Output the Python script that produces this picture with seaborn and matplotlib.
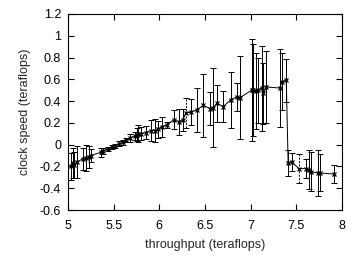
import numpy as np
import pandas as pd
import matplotlib
matplotlib.use("Agg")
import matplotlib.pyplot as plt
import seaborn as sns

# throughput (teraflops)
x_vals = [5.03, 5.05, 5.07, 5.10, 5.16, 5.20, 5.23, 5.25, 5.36, 5.38,
          5.44, 5.48, 5.52, 5.56, 5.60, 5.64, 5.68, 5.73, 5.76, 5.77,
          5.80, 5.85, 5.91, 5.95, 5.98, 6.03, 6.08, 6.16, 6.21, 6.26,
          6.29, 6.35, 6.41, 6.48, 6.56, 6.59, 6.63, 6.70, 6.78, 6.85,
          6.88, 7.01, 7.03, 7.06, 7.08, 7.12, 7.14, 7.17, 7.32, 7.34,
          7.39, 7.41, 7.45, 7.53, 7.61, 7.64, 7.66, 7.74, 7.76, 7.91]
# clock speed (teraflops)
y_vals = [-0.20, -0.17, -0.19, -0.16, -0.13, -0.12, -0.11, -0.10, -0.07, -0.06,
          -0.04, -0.02, -0.01, 0.01, 0.02, 0.04, 0.06, 0.08, 0.09, 0.10,
          0.10, 0.11, 0.13, 0.13, 0.14, 0.165, 0.18, 0.23, 0.21, 0.23,
          0.29, 0.30, 0.32, 0.36, 0.33, 0.34, 0.38, 0.35, 0.41, 0.44,
          0.43, 0.50, 0.50, 0.49, 0.50, 0.52, 0.47, 0.53, 0.52, 0.58,
          0.59, -0.17, -0.16, -0.22, -0.22, -0.23, -0.25, -0.26, -0.26, -0.27]
# error (half-width)
err_vals = [0.12, 0.14, 0.12, 0.15, 0.10, 0.12, 0.10, 0.06, 0.04, 0.03,
            0.02, 0.02, 0.02, 0.02, 0.02, 0.02, 0.04, 0.04, 0.06, 0.08,
            0.06, 0.06, 0.10, 0.11, 0.08, 0.09, 0.03, 0.09, 0.12, 0.10,
            0.14, 0.12, 0.20, 0.29, 0.15, 0.36, 0.17, 0.14, 0.26, 0.13,
            0.38, 0.47, 0.42, 0.35, 0.30, 0.39, 0.28, 0.33, 0.36, 0.26,
            0.20, 0.12, 0.08, 0.13, 0.09, 0.18, 0.18, 0.21, 0.17, 0.08]
# points whose error bars are drawn dashed
dashed_x = [6.29, 7.53]

x_ticks = [5, 5.5, 6, 6.5, 7, 7.5, 8]
x_ticklabels = ["5", "5.5", "6", "6.5", "7", "7.5", "8"]
y_ticks = [-0.6, -0.4, -0.2, 0, 0.2, 0.4, 0.6, 0.8, 1, 1.2]
y_ticklabels = ["-0.6", "-0.4", "-0.2", "0", "0.2", "0.4", "0.6", "0.8", "1", "1.2"]

sns.set_style("ticks")
plt.rcParams['font.family'] = ['Liberation Sans', 'DejaVu Sans']

df = pd.DataFrame({"x": x_vals, "y": y_vals, "err": err_vals})
df["dashed"] = df["x"].isin(dashed_x)

fig = plt.figure(figsize=(3.57, 2.59), dpi=100)
ax = fig.add_axes([68 / 357, 1 - 210 / 259, (342 - 68) / 357, (210 - 14) / 259])

solid = df[~df["dashed"]]
dash = df[df["dashed"]]
ax.errorbar(solid["x"], solid["y"], yerr=solid["err"], fmt="none",
            ecolor="black", elinewidth=0.7, capsize=2.2, capthick=0.7)
eb = ax.errorbar(dash["x"], dash["y"], yerr=dash["err"], fmt="none",
                 ecolor="black", elinewidth=0.7, capsize=2.2, capthick=0.7)
for c in eb[2]:
    c.set_linestyle((0, (2, 1.5)))

sns.lineplot(data=df, x="x", y="y", ax=ax, color="black", linewidth=0.7,
             marker="x", markersize=3.5, markeredgewidth=0.9,
             markeredgecolor="black", markerfacecolor="black",
             sort=True, estimator=None)

ax.set_xlim(5, 8)
ax.set_ylim(-0.6, 1.2)
ax.set_xticks(x_ticks)
ax.set_xticklabels(x_ticklabels)
ax.set_yticks(y_ticks)
ax.set_yticklabels(y_ticklabels)
ax.tick_params(direction="in", length=4, width=0.8, labelsize=9,
               top=True, right=True, colors="black")
ax.tick_params(axis="x", pad=7)
ax.tick_params(axis="y", pad=5)
for s in ax.spines.values():
    s.set_visible(True)
    s.set_linewidth(0.8)
    s.set_color("black")
ax.set_xlabel("throughput (teraflops)", fontsize=9, labelpad=5)
ax.set_ylabel("clock speed (teraflops)", fontsize=9, labelpad=6)

fig.savefig("out.png", dpi=100)
